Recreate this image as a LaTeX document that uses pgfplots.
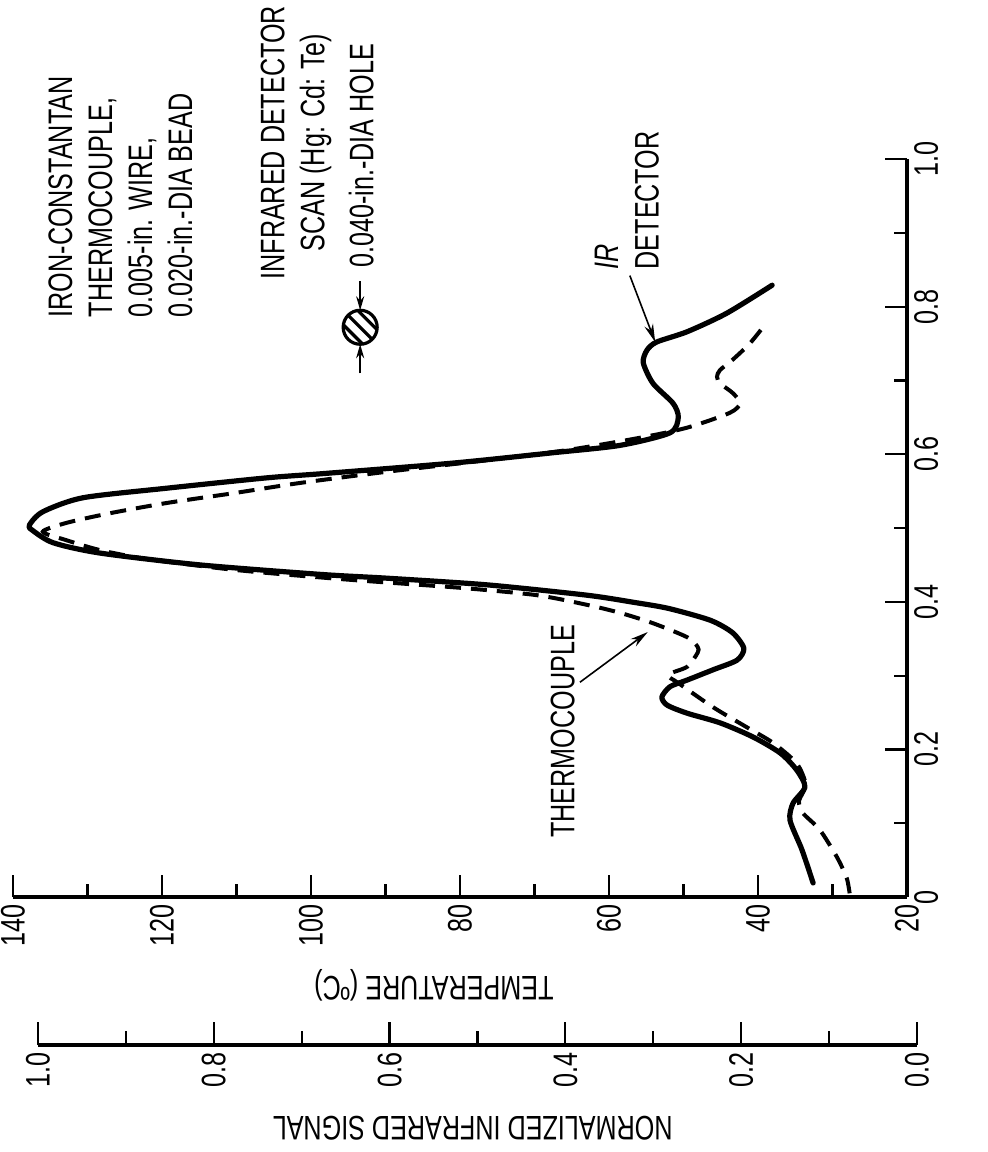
\documentclass[border=0pt]{standalone}
\usepackage{pgfplots}
\pgfplotsset{compat=1.18}
\usepackage{fontspec}
\setmainfont{Liberation Sans}[FakeStretch=0.74]
\usetikzlibrary{arrows.meta}
\newcommand{\lbl}{\fontsize{17}{20}\selectfont}
\begin{document}
\begin{tikzpicture}[font=\lbl]
\begin{axis}[
  at={(0,0)}, anchor=south west,
  scale only axis, width=447pt, height=369pt,
  x dir=reverse, xmin=20, xmax=140, ymin=0, ymax=1,
  axis x line*=bottom, axis y line*=right,
  axis line style={line width=2pt},
  clip=false,
  tick align=inside,
  major tick length=11pt, minor tick length=6.5pt,
  every tick/.style={line width=1.1pt, black},
  xtick={20,40,60,80,100,120,140},
  xticklabels={20,40,60,80,100,120,140},
  minor xtick={30,50,70,90,110,130},
  ytick={0,0.2,0.4,0.6,0.8,1},
  yticklabels={0,0.2,0.4,0.6,0.8,1.0},
  minor ytick={0.1,0.3,0.5,0.7,0.9},
  tick label style={font=\lbl},
  xticklabel style={rotate=90, anchor=east},
  yticklabel style={rotate=90, anchor=north},
]
% IR detector (solid)
\addplot[line width=2.6pt, line cap=round, line join=round, smooth, tension=0.45] coordinates {
(32.6,0.019) (34.1,0.064) (35.7,0.104) (35.3,0.127) (33.7,0.149) (34.8,0.172)
(37.0,0.195) (40.7,0.217) (45.1,0.236) (49.5,0.249) (52.2,0.260) (52.9,0.271)
(51.8,0.285) (49.5,0.294) (46.0,0.308) (42.8,0.321) (41.9,0.337) (43.4,0.358)
(46.4,0.375) (52.0,0.391) (56.5,0.399) (63.0,0.409) (76.4,0.423) (89.8,0.432)
(98.5,0.437) (114.9,0.450) (128.3,0.466) (134.6,0.480) (137.4,0.497) (137.8,0.504)
(136.0,0.522) (130.6,0.541) (119.3,0.554) (105.9,0.568) (98.0,0.574) (80.9,0.588)
(67.5,0.602) (58.5,0.612) (51.8,0.629) (50.7,0.650) (51.4,0.669) (54.1,0.696)
(55.4,0.724) (54.9,0.741) (53.6,0.752) (49.5,0.766) (44.2,0.791) (38.1,0.829)
};
% Thermocouple (dashed)
\addplot[line width=2pt, dash pattern=on 8pt off 5pt, smooth, tension=0.45] coordinates {
(27.7,0.005) (28.1,0.026) (29.4,0.054) (31.7,0.091) (34.0,0.114) (34.5,0.130)
(33.6,0.152) (34.8,0.181) (38.0,0.209) (41.5,0.230) (46.0,0.257) (50.7,0.290)
(52.1,0.301) (49.5,0.312) (48.1,0.331) (48.1,0.339) (49.5,0.352) (54.1,0.371)
(58.5,0.385) (63.0,0.396) (69.7,0.409) (80.0,0.419) (95.0,0.430) (110.0,0.443)
(122.0,0.458) (128.3,0.470) (133.0,0.484) (136.0,0.495) (132.8,0.507) (127.0,0.520)
(119.3,0.534) (110.5,0.547) (101.5,0.561) (90.0,0.576) (78.0,0.590) (66.0,0.605)
(56.0,0.622) (49.5,0.636) (43.8,0.656) (42.4,0.669) (43.4,0.683) (45.1,0.696)
(45.5,0.705) (45.1,0.714) (43.4,0.728) (41.1,0.750) (39.1,0.775)
};
\node[rotate=90, anchor=north west, align=left, inner sep=0pt] at (axis cs:135.3,0.785)
  {IRON-CONSTANTAN\\THERMOCOUPLE,\\0.005-in. WIRE,\\0.020-in.-DIA BEAD};
\node[rotate=90, anchor=north, align=center, inner sep=0pt] at (axis cs:106.8,1.022)
  {INFRARED DETECTOR\\SCAN (Hg: Cd: Te)};
\node[rotate=90, anchor=north west, inner sep=0pt] at (axis cs:95.0,0.852)
  {0.040-in.-DIA HOLE};
\coordinate (S) at (axis cs:93.4,0.772);
\node[rotate=90, anchor=north west, align=left, inner sep=0pt] at (axis cs:61.9,0.850)
  {{\itshape IR}\\DETECTOR};
\draw[-{Stealth[length=9pt,width=4.5pt]}, line width=0.8pt] (axis cs:57.2,0.842) -- (axis cs:53.8,0.752);
\node[rotate=90, anchor=north west, inner sep=0pt] at (axis cs:67.9,0.080) {THERMOCOUPLE};
\draw[-{Stealth[length=9pt,width=4.5pt]}, line width=0.8pt] (axis cs:63.9,0.291) -- (axis cs:54.8,0.359);
\node[rotate=180] at (axis cs:83.5,-0.119) {TEMPERATURE (ºC)};
\node[rotate=180] at (axis cs:78.3,-0.313) {NORMALIZED INFRARED SIGNAL};
\end{axis}
% hole symbol
\draw[line width=1.6pt] (S) circle (8.5pt);
\begin{scope}
\clip (S) circle (8.5pt);
\foreach \d in {-3.6,0,3.6} {
  \draw[line width=1.6pt] ([shift={(\d pt-12pt,\d pt+12pt)}]S) -- ([shift={(\d pt+12pt,\d pt-12pt)}]S);
}
\end{scope}
\draw[-{Stealth[length=7pt,width=4pt]}, line width=1pt] ([yshift=23pt]S) -- ([yshift=8.5pt]S);
\draw[-{Stealth[length=7pt,width=4pt]}, line width=1pt] ([yshift=-23pt]S) -- ([yshift=-8.5pt]S);
% normalized signal axis
\begin{axis}[
  at={(12.5pt,-74pt)}, anchor=south west,
  scale only axis, width=439.5pt, height=30pt,
  x dir=reverse, xmin=0, xmax=1, ymin=0, ymax=1,
  axis x line*=bottom, axis y line=none,
  axis line style={line width=2pt},
  tick align=inside,
  major tick length=11.5pt, minor tick length=7pt,
  every tick/.style={line width=1.1pt, black},
  xtick={0,0.2,0.4,0.6,0.8,1},
  xticklabels={0.0,0.2,0.4,0.6,0.8,1.0},
  minor xtick={0.1,0.3,0.5,0.7,0.9},
  tick label style={font=\lbl},
  xticklabel style={rotate=90, anchor=east},
]
\addplot[draw=none] coordinates {(0,0) (1,1)};
\end{axis}
\pgfresetboundingbox
\path (-6.5pt,-127.5pt) rectangle (487.5pt,448.5pt);
\end{tikzpicture}
\end{document}
